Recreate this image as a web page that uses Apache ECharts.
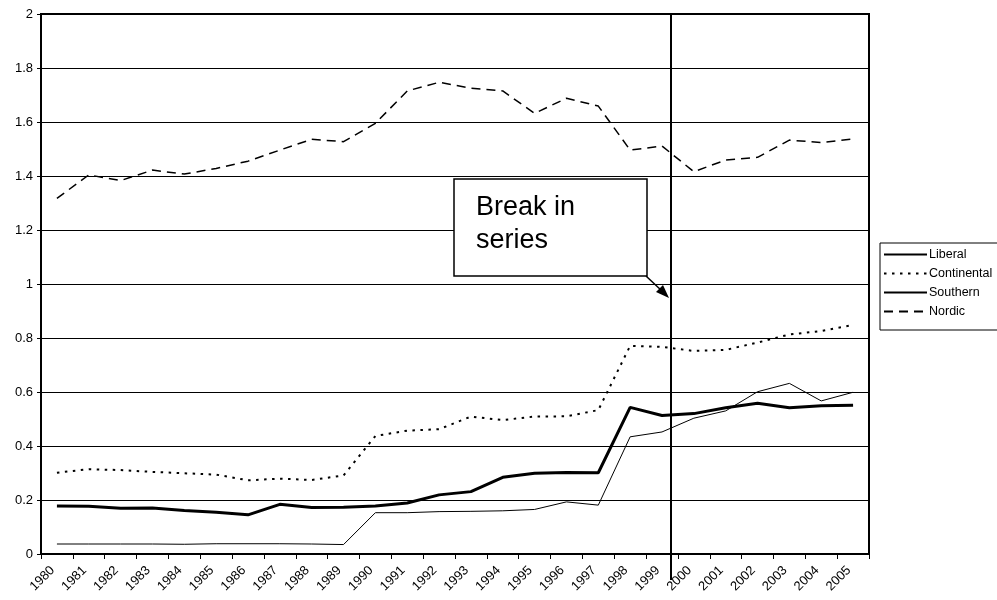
<!DOCTYPE html>
<html>
<head>
<meta charset="utf-8">
<script src="https://cdn.jsdelivr.net/npm/echarts@6/dist/echarts.min.js"></script>
<style>
  html, body { margin: 0; padding: 0; background: #fff; }
  #chart { width: 997px; height: 600px; }
</style>
</head>
<body>
<div id="chart"></div>
<script>
// years on the x axis
var years = ["1980", "1981", "1982", "1983", "1984", "1985", "1986", "1987", "1988", "1989",
  "1990", "1991", "1992", "1993", "1994", "1995", "1996", "1997", "1998", "1999",
  "2000", "2001", "2002", "2003", "2004", "2005"];

var liberal = [0.178, 0.177, 0.169, 0.170, 0.161, 0.155, 0.145, 0.184, 0.172, 0.173,
  0.178, 0.189, 0.219, 0.231, 0.284, 0.299, 0.302, 0.301, 0.543, 0.513,
  0.520, 0.542, 0.558, 0.542, 0.549, 0.551];

var continental = [0.301, 0.314, 0.311, 0.304, 0.299, 0.294, 0.273, 0.279, 0.274, 0.291,
  0.437, 0.457, 0.462, 0.509, 0.496, 0.509, 0.510, 0.533, 0.771, 0.767,
  0.752, 0.756, 0.783, 0.813, 0.826, 0.848];

var southern = [0.037, 0.037, 0.037, 0.037, 0.036, 0.038, 0.038, 0.038, 0.037, 0.035,
  0.153, 0.153, 0.157, 0.158, 0.160, 0.165, 0.193, 0.181, 0.434, 0.452,
  0.503, 0.530, 0.601, 0.632, 0.567, 0.599];

var nordic = [1.317, 1.404, 1.383, 1.422, 1.407, 1.428, 1.455, 1.496, 1.536, 1.527,
  1.595, 1.715, 1.747, 1.725, 1.715, 1.632, 1.688, 1.659, 1.496, 1.511,
  1.416, 1.459, 1.469, 1.533, 1.524, 1.537];

var seriesNames = ["Liberal", "Continental", "Southern", "Nordic"];

var chart = echarts.init(document.getElementById("chart"));

var option = {
  animation: false,
  textStyle: { fontFamily: "Liberation Sans, Arial, sans-serif" },
  grid: {
    left: 41,
    right: 128,
    top: 14,
    bottom: 46,
    show: true,
    borderColor: "#000",
    borderWidth: 2
  },
  legend: {
    data: seriesNames,
    orient: "vertical",
    left: 880,
    top: 243,
    itemWidth: 43,
    itemHeight: 12,
    itemGap: 6,
    padding: [5, 12, 12, 3],
    borderColor: "#000",
    borderWidth: 1,
    backgroundColor: "#fff",
    itemStyle: { opacity: 0 }, // line only, no marker
    textStyle: { color: "#000", fontSize: 12.5, padding: [0, 0, 0, -3] }
  },
  xAxis: {
    type: "category",
    data: years,
    boundaryGap: true,
    axisLine: { lineStyle: { color: "#000", width: 2 } },
    axisTick: { show: true, length: 5, lineStyle: { color: "#000", width: 1 } },
    axisLabel: {
      interval: 0,
      rotate: 45,
      color: "#000",
      fontSize: 13,
      margin: 10,
      padding: [0, 6, 0, 0]
    },
    splitLine: { show: false }
  },
  yAxis: {
    type: "value",
    min: 0,
    max: 2,
    interval: 0.2,
    axisLine: { show: true, lineStyle: { color: "#000", width: 2 } },
    axisTick: { show: true, length: 4, lineStyle: { color: "#000" } },
    axisLabel: { color: "#000", fontSize: 13, margin: 8 },
    splitLine: { show: true, lineStyle: { color: "#000", width: 1 } }
  },
  series: [
    {
      name: "Liberal",
      type: "line",
      data: liberal,
      symbol: "none",
      itemStyle: { color: "#000" },
      lineStyle: { color: "#000", width: 3, type: "solid" }
    },
    {
      name: "Continental",
      type: "line",
      data: continental,
      symbol: "none",
      itemStyle: { color: "#000" },
      lineStyle: { color: "#000", width: 2, type: [2.5, 5.5] }
    },
    {
      name: "Southern",
      type: "line",
      data: southern,
      symbol: "none",
      itemStyle: { color: "#000" },
      lineStyle: { color: "#000", width: 1, type: "solid" }
    },
    {
      name: "Nordic",
      type: "line",
      data: nordic,
      symbol: "none",
      itemStyle: { color: "#000" },
      lineStyle: { color: "#000", width: 1.5, type: [9, 6] }
    }
  ],
  // break-in-series annotation
  graphic: [
    {
      type: "line",
      shape: { x1: 671, y1: 14, x2: 671, y2: 580 },
      style: { stroke: "#000", lineWidth: 2 },
      z: 100
    },
    {
      type: "rect",
      shape: { x: 454, y: 179, width: 193, height: 97 },
      style: { fill: "#fff", stroke: "#000", lineWidth: 1.5 },
      z: 100
    },
    {
      type: "text",
      left: 476,
      top: 191,
      style: {
        text: "Break in\nseries",
        font: "27px Liberation Sans, Arial, sans-serif",
        fill: "#000",
        lineHeight: 33
      },
      z: 101
    },
    {
      type: "line",
      shape: { x1: 646, y1: 276, x2: 662, y2: 291 },
      style: { stroke: "#000", lineWidth: 1.5 },
      z: 100
    },
    {
      type: "polygon",
      shape: { points: [[669, 298], [656, 292], [663, 285]] },
      style: { fill: "#000" },
      z: 100
    }
  ]
};

chart.setOption(option);
</script>
</body>
</html>
